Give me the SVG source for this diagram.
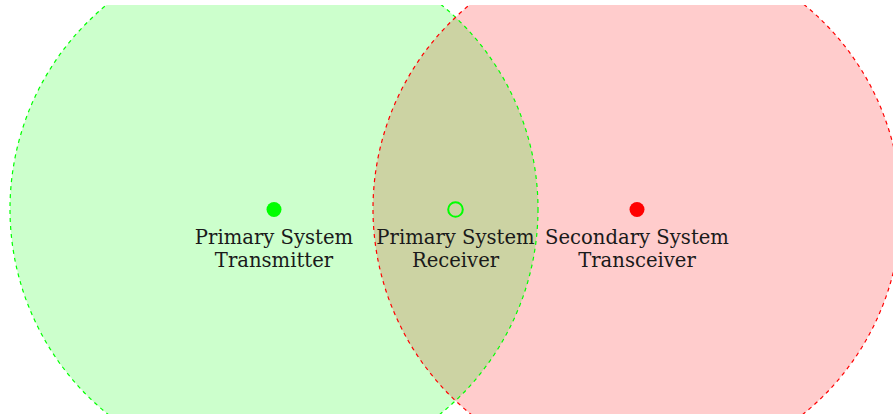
<svg xmlns="http://www.w3.org/2000/svg" width="893" height="414" viewBox="0 0 893 414">
  <style>
    .zone { fill: none; stroke-width: 1.2; stroke-dasharray: 4 4; }
    .label { font-family: "DejaVu Serif", "Liberation Serif", serif; font-size: 19.6px; fill: #1a1a1a; text-anchor: middle; }
  </style>
  <defs>
    <clipPath id="frame">
      <rect x="0" y="5" width="893" height="409"/>
    </clipPath>
    <clipPath id="primary-area">
      <circle cx="274" cy="209" r="264"/>
    </clipPath>
  </defs>
  <rect width="893" height="414" fill="#ffffff"/>
  <g id="coverage" clip-path="url(#frame)">
    <g id="primary-zone">
      <circle cx="274" cy="209" r="264" fill="#ccffcc"/>
    </g>
    <g id="secondary-zone">
      <circle cx="637" cy="209" r="264" fill="#ffcccc"/>
    </g>
    <!-- region covered by both systems -->
    <g id="overlap">
      <circle cx="637" cy="209" r="264" fill="#ccd3a3" clip-path="url(#primary-area)"/>
    </g>
    <g id="zone-outlines">
      <circle cx="274" cy="209" r="264" stroke="#00ff00" class="zone"/>
      <circle cx="637" cy="209" r="264" stroke="#ff0000" class="zone"/>
    </g>
  </g>
  <g id="transmitter">
    <circle cx="274" cy="209.5" r="7.5" fill="#00ff00"/>
    <text class="label" x="274" y="244">Primary System</text>
    <text class="label" x="274" y="267">Transmitter</text>
  </g>
  <g id="receiver">
    <circle cx="455.5" cy="209.5" r="7.3" fill="none" stroke="#00ff00" stroke-width="2"/>
    <text class="label" x="455.5" y="244">Primary System</text>
    <text class="label" x="455.5" y="267">Receiver</text>
  </g>
  <g id="transceiver">
    <circle cx="637" cy="209.5" r="7.5" fill="#ff0000"/>
    <text class="label" x="637" y="244">Secondary System</text>
    <text class="label" x="637" y="267">Transceiver</text>
  </g>
</svg>
